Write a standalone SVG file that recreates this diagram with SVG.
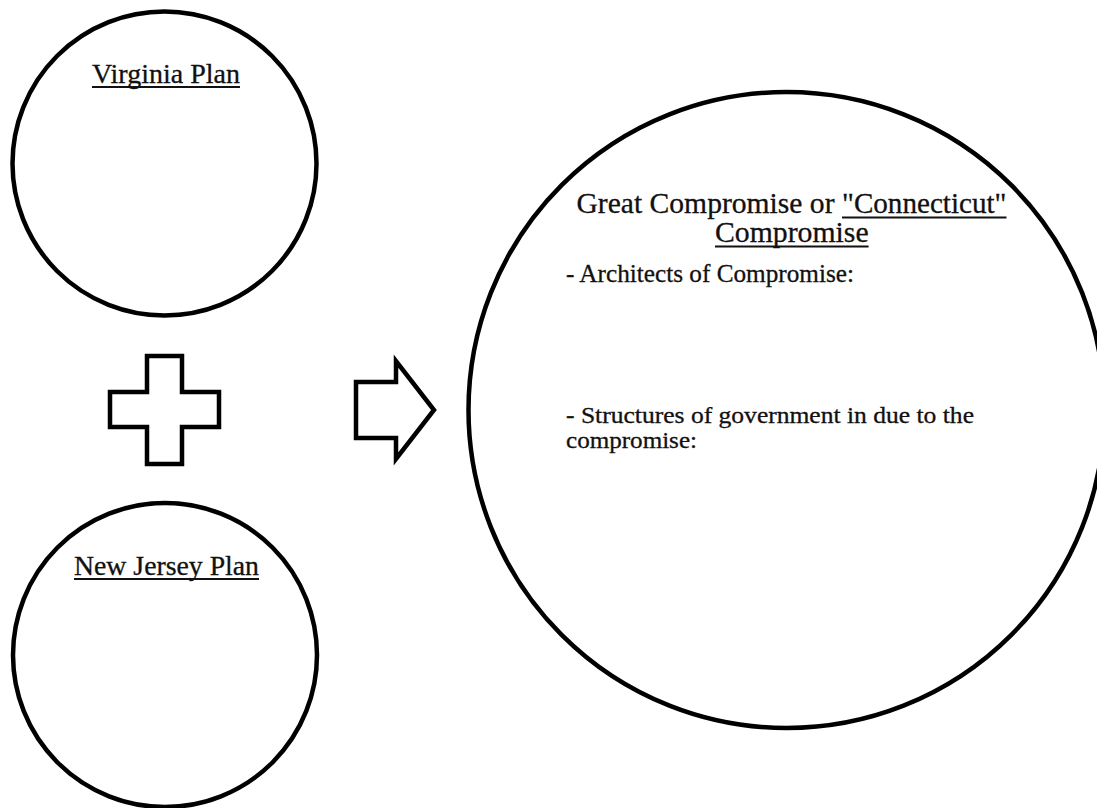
<svg xmlns="http://www.w3.org/2000/svg" width="1097" height="808" viewBox="0 0 1097 808">
  <style>
    .ring { fill: #ffffff; stroke: #000000; stroke-width: 4.5; }
    .shape { fill: #ffffff; stroke: #000000; stroke-width: 4.5; stroke-linejoin: miter; }
    .lbl { font-family: "Liberation Serif", "Times New Roman", serif; fill: #111111; stroke: #111111; stroke-width: 0.3; }
    .plan { font-size: 27.5px; }
    .title { font-size: 29.3px; }
    .body { font-size: 25px; }
    .body2 { font-size: 22.5px; }
    .uline { stroke: #111111; stroke-width: 2.2; fill: none; }
  </style>
  <rect x="0" y="0" width="1097" height="808" fill="#ffffff"/>

  <g id="virginia-plan">
    <circle class="ring" cx="164.5" cy="163.5" r="152"/>
    <text class="lbl plan" x="92" y="83" textLength="148" lengthAdjust="spacingAndGlyphs">Virginia Plan</text>
    <line class="uline" x1="92" y1="87" x2="240" y2="87"/>
  </g>

  <g id="new-jersey-plan">
    <circle class="ring" cx="165" cy="655" r="152"/>
    <text class="lbl plan" x="74" y="575" textLength="185" lengthAdjust="spacingAndGlyphs">New Jersey Plan</text>
    <line class="uline" x1="74" y1="579" x2="259" y2="579"/>
  </g>

  <g id="plus-sign">
    <path class="shape" d="M147,356 H182 V392 H219 V427 H182 V464 H147 V427 H110 V392 H147 Z"/>
  </g>

  <g id="connectors">
    <path class="shape" d="M356,382 H396 V361 L434,410 L396,459 V438 H356 Z"/>
  </g>

  <g id="great-compromise">
    <circle class="ring" cx="786.5" cy="410" r="318"/>
    <text class="lbl title" x="576.5" y="213" textLength="258" lengthAdjust="spacingAndGlyphs">Great Compromise or</text>
    <text class="lbl title" x="842" y="213" textLength="164.5" lengthAdjust="spacingAndGlyphs">"Connecticut"</text>
    <line class="uline" x1="842" y1="217.5" x2="1006.5" y2="217.5"/>
    <text class="lbl title" x="715" y="242" textLength="153.6" lengthAdjust="spacingAndGlyphs">Compromise</text>
    <line class="uline" x1="715" y1="246.5" x2="868.6" y2="246.5"/>
    <text class="lbl body" x="566" y="282" textLength="288" lengthAdjust="spacingAndGlyphs">- Architects of Compromise:</text>
    <text class="lbl body2" x="566" y="423" textLength="408" lengthAdjust="spacingAndGlyphs">- Structures of government in due to the</text>
    <text class="lbl body2" x="566" y="448" textLength="131" lengthAdjust="spacingAndGlyphs">compromise:</text>
  </g>
</svg>
